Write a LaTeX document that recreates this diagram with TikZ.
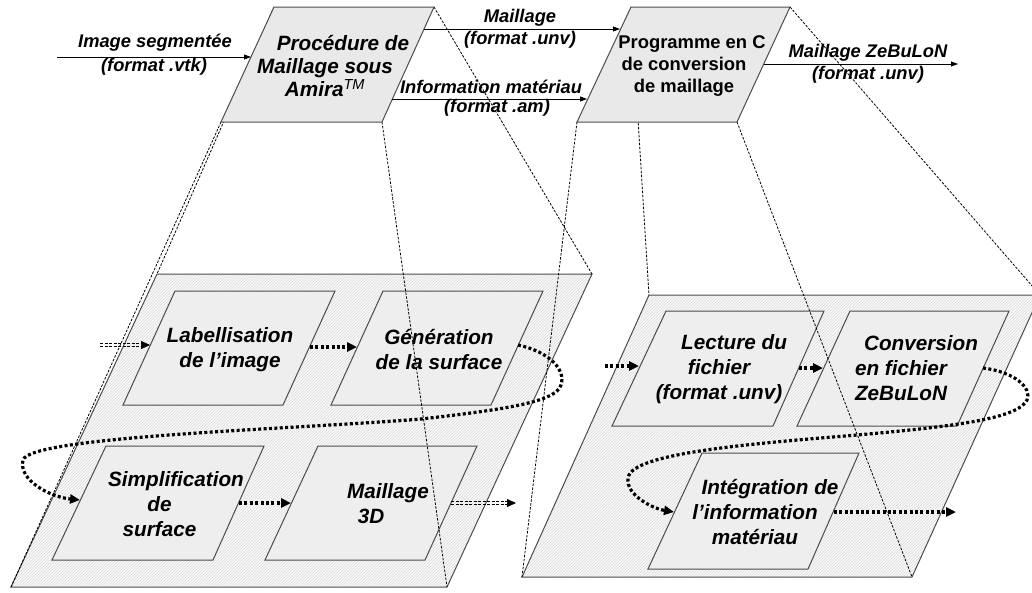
\documentclass[tikz,border=0pt]{standalone}
\usepackage{fontspec}
\setmainfont{Liberation Sans}
\usetikzlibrary{arrows.meta,patterns}
\begin{document}
\begin{tikzpicture}[x=1pt,y=-1pt,
  bigpara/.style={preaction={fill=gray!5}, pattern=north east lines, pattern color=gray!28, draw=black!70, line width=1pt},
  innerbox/.style={draw=black!70, line width=1pt, fill=gray!13},
  topbox/.style={draw=black!70, line width=1pt, fill=gray!17},
  proj/.style={black, line width=0.8pt, dash pattern=on 2.5pt off 1.5pt},
  flow/.style={line width=3.2pt, dash pattern=on 3pt off 2.4pt, -{Triangle[length=10pt,width=9pt]}},
  dsh/.style={line width=0.8pt, dash pattern=on 3pt off 1.5pt},
  tipper/.style={line width=0.7pt, -{Triangle[length=9pt,width=8pt]}},
  plain/.style={line width=0.8pt, -{Triangle[length=7pt,width=5pt]}},
  boxtext/.style={font=\fontsize{20.7}{25}\selectfont\bfseries\itshape, align=center, inner sep=0pt},
  progtext/.style={font=\fontsize{18.4}{22}\selectfont\bfseries, align=center, inner sep=0pt},
  lbl/.style={font=\fontsize{18.3}{22}\selectfont\bfseries\itshape, inner sep=0pt}]
\useasboundingbox (0,0) rectangle (1032,592);
\clip (0,0) rectangle (1032,592);

% ---------- corner coordinates ----------
% top boxes
\coordinate (P-tl) at (274,7);   \coordinate (P-tr) at (434,7);
\coordinate (P-br) at (382,122); \coordinate (P-bl) at (221,122);
\coordinate (C-tl) at (631,7);   \coordinate (C-tr) at (790,7);
\coordinate (C-br) at (737,122); \coordinate (C-bl) at (577,122);
% big planes
\coordinate (BL-tl) at (157,274); \coordinate (BL-tr) at (592,274);
\coordinate (BL-br) at (447,587); \coordinate (BL-bl) at (11,587);
\coordinate (BR-tl) at (649,295); \coordinate (BR-tr) at (1040,295);
\coordinate (BR-br) at (912,577); \coordinate (BR-bl) at (522,577);
% inner boxes
\coordinate (LAB-tl) at (175,291); \coordinate (LAB-tr) at (335,291);
\coordinate (LAB-br) at (283,405); \coordinate (LAB-bl) at (123,405);
\coordinate (GEN-tl) at (383,291); \coordinate (GEN-tr) at (543,291);
\coordinate (GEN-br) at (491,405); \coordinate (GEN-bl) at (331,405);
\coordinate (SIM-tl) at (106,446); \coordinate (SIM-tr) at (264,446);
\coordinate (SIM-br) at (213,560); \coordinate (SIM-bl) at (52,560);
\coordinate (M3D-tl) at (318,446); \coordinate (M3D-tr) at (477,446);
\coordinate (M3D-br) at (425,560); \coordinate (M3D-bl) at (265,560);
\coordinate (LEC-tl) at (666,311); \coordinate (LEC-tr) at (824,311);
\coordinate (LEC-br) at (773,426); \coordinate (LEC-bl) at (612,426);
\coordinate (CON-tl) at (850,311); \coordinate (CON-tr) at (1009,311);
\coordinate (CON-br) at (957,426); \coordinate (CON-bl) at (797,426);
\coordinate (INT-tl) at (702,453); \coordinate (INT-tr) at (859,453);
\coordinate (INT-br) at (808,569); \coordinate (INT-bl) at (648,569);

% connector end points on box edges
\coordinate (labin-s) at (100,345);  \coordinate (lab-w) at (150,345);
\coordinate (lab-e) at (310,347);    \coordinate (gen-w) at (357,347);
\coordinate (gen-e) at (518,345);    \coordinate (sim-w) at (80,500);
\coordinate (sim-e) at (239,503);    \coordinate (m3d-w) at (291,503);
\coordinate (m3d-e) at (451,503);    \coordinate (m3dout) at (516,503);
\coordinate (lecin) at (605,366);    \coordinate (lec-w) at (639,366);
\coordinate (lec-e) at (799,368);    \coordinate (con-w) at (823,368);
\coordinate (con-e) at (983,368);    \coordinate (int-w) at (674,512);
\coordinate (int-e) at (834,512);    \coordinate (intout) at (956,512);
\coordinate (imgin) at (57,57);      \coordinate (P-w) at (251,57);
\coordinate (P-e1) at (424,29);      \coordinate (C-w1) at (620,29);
\coordinate (P-e2) at (392,99);      \coordinate (C-w2) at (587,99);
\coordinate (C-e) at (764,64);       \coordinate (zout) at (958,64);

% ---------- big planes ----------
\path[bigpara] (BL-tl) -- (BL-tr) -- (BL-br) -- (BL-bl) -- cycle;
\path[bigpara] (BR-tl) -- (BR-tr) -- (BR-br) -- (BR-bl) -- cycle;

% ---------- inner boxes ----------
\foreach \b in {LAB,GEN,SIM,M3D,LEC,CON,INT}{
  \draw[innerbox] (\b-tl) -- (\b-tr) -- (\b-br) -- (\b-bl) -- cycle;
}

\node[boxtext] (lab) at (230,349.5) {Labellisation\\de l’image};
\node[boxtext] (gen) at (439,349.5) {Génération\\de la surface};
\node[boxtext] (sim) at (159.5,504.5) {\hspace*{33pt}Simplification\\de\\surface};
\node[boxtext] (m3d) at (371,503.5) {\hspace*{34pt}Maillage\\3D};
\node[boxtext] (lec) at (719,369) {\hspace*{30pt}Lecture du\\fichier\\(format .unv)};
\node[boxtext] (con) at (901,368.5) {\hspace*{40pt}Conversion\\en fichier\\ZeBuLoN};
\node[boxtext] (int) at (755,512) {\hspace*{30pt}Intégration de\\l’information\\matériau};

% ---------- flow arrows ----------
\draw[dsh] ([yshift=-1.3pt]labin-s) -- ([yshift=-1.3pt,xshift=-8pt]lab-w);
\draw[dsh] ([yshift=1.3pt]labin-s) -- ([yshift=1.3pt,xshift=-8pt]lab-w);
\draw[tipper] ([xshift=-9pt]lab-w) -- (lab-w);
\draw[flow] (lab-e) -- (gen-w);
\draw[flow] (gen-e) .. controls (550,352) and (566,370) .. (561,385)
  .. controls (556,400) and (520,408) .. (421,419)
  .. controls (300,429) and (30,436) .. (23,460)
  .. controls (18,480) and (50,497) .. (sim-w);
\draw[flow] (sim-e) -- (m3d-w);
\draw[dsh] ([yshift=-1.3pt]m3d-e) -- ([yshift=-1.3pt,xshift=-8pt]m3dout);
\draw[dsh] ([yshift=1.3pt]m3d-e) -- ([yshift=1.3pt,xshift=-8pt]m3dout);
\draw[tipper] ([xshift=-9pt]m3dout) -- (m3dout);

\draw[flow] (lecin) -- (lec-w);
\draw[flow] (lec-e) -- (con-w);
\draw[flow] (con-e) .. controls (1015,372) and (1032,388) .. (1027,400)
  .. controls (1018,418) and (960,426) .. (857,435)
  .. controls (760,443) and (640,452) .. (629,475)
  .. controls (622,492) and (650,508) .. (int-w);
\draw[flow] (int-e) -- (intout);

% ---------- projection lines ----------
\draw[proj] (P-tl) -- (BL-tl);
\draw[proj] (P-bl) -- (BL-bl);
\draw[proj] (P-br) -- (BL-br);
\draw[proj] (P-tr) -- (BL-tr);
\draw[proj] (C-tl) -- (BR-tl);
\draw[proj] (C-bl) -- (BR-bl);
\draw[proj] (C-br) -- (BR-br);
\draw[proj] (C-tr) -- (BR-tr);

% ---------- top boxes ----------
\draw[topbox] (P-tl) -- (P-tr) -- (P-br) -- (P-bl) -- cycle;
\draw[topbox] (C-tl) -- (C-tr) -- (C-br) -- (C-bl) -- cycle;
\node[boxtext, font=\fontsize{20.7}{23}\selectfont\bfseries\itshape] (proc) at (325,66.5)
  {\hspace*{36pt}Procédure de\\Maillage sous\\Amira\textsuperscript{\mdseries TM}};
\node[progtext] (prog) at (684,66) {\hspace*{16pt}Programme en C\\de conversion\\de maillage};

% ---------- top arrows ----------
\draw[plain] (imgin) -- (P-w);
\draw[plain] (P-e1) -- (C-w1);
\draw[plain] (P-e2) -- (C-w2);
\draw[plain] (C-e) -- (zout);

\node[lbl] (limg1) at (155,43) {Image segmentée};
\node[lbl] (limg2) at (154,67) {(format .vtk)};
\node[lbl] (lmai1) at (520,18) {Maillage};
\node[lbl] (lmai2) at (520,40) {(format .unv)};
\node[lbl] (linf1) at (491,87) {Information matériau};
\node[lbl] (linf2) at (497,108) {(format .am)};
\node[lbl] (lzeb1) at (868,53) {Maillage ZeBuLoN};
\node[lbl] (lzeb2) at (868,75) {(format .unv)};
\end{tikzpicture}
\end{document}
